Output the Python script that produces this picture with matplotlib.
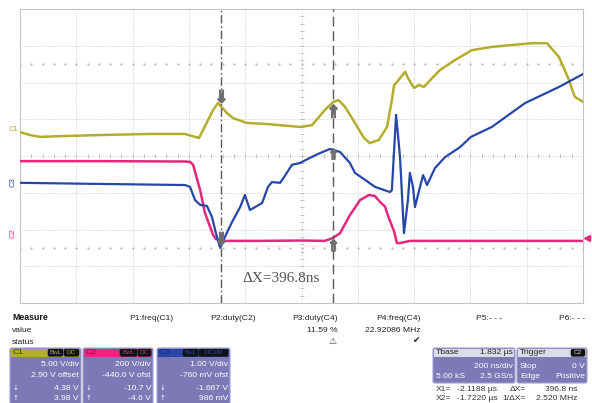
import matplotlib
matplotlib.use('Agg')
import matplotlib.pyplot as plt
from matplotlib.patches import Rectangle, FancyBboxPatch
import numpy as np

plt.rcParams['font.family'] = ['Liberation Sans', 'DejaVu Sans']

# time in ns (screen centre = 0, 200 ns/div), level in screen divisions
c1_t = [-1000, -964, -929, -858, -716, -538, -414, -364, -314, -297, -265, -243, -194, -123, -5,
        37, 83, 114, 132, 155, 190, 222, 243, 275, 304, 321, 329, 339, 350, 368, 382, 400, 417,
        435, 464, 492, 545, 605, 677, 748, 819, 872, 915, 950, 971, 1000]
c1_v = [0.65, 0.57, 0.52, 0.54, 0.57, 0.60, 0.60, 0.49, 1.25, 1.44, 1.17, 1.03, 0.90, 0.87, 0.79,
        0.84, 1.25, 1.48, 1.52, 1.33, 0.90, 0.49, 0.35, 0.44, 0.79, 1.52, 1.93, 2.01, 2.12, 2.29, 2.07, 1.85, 1.93,
        1.88, 2.12, 2.34, 2.61, 2.88, 2.97, 3.02, 3.07, 3.07, 2.69, 2.07, 1.61, 1.47]

c2_t = [-1000, -716, -414, -396, -385, -360, -343, -314, -304, -286, -150, 0, 83, 112, 137, 172,
        208, 240, 261, 279, 297, 307, 316, 329, 339, 350, 385, 600, 1000]
c2_v = [-0.14, -0.14, -0.15, -0.16, -0.24, -0.93, -1.55, -2.15, -2.26, -2.31, -2.31, -2.30, -2.31, -2.23, -2.10, -1.61,
        -1.20, -1.06, -1.09, -1.25, -1.38, -1.62, -1.80, -2.05, -2.37, -2.37, -2.31, -2.31, -2.31]

c3_t = [-1000, -716, -414, -396, -378, -360, -336, -318, -304, -289, -272, -247, -218, -201, -183,
        -165, -140, -119, -105, -76, -59, -34, -5, 30, 66, 101, 137, 172, 190, 226, 261, 314, 321,
        336, 350, 364, 378, 385, 396, 403, 421, 432, 446, 474, 510, 563, 602, 676, 794, 915, 1000]
c3_v = [-0.73, -0.76, -0.79, -0.84, -1.20, -1.33, -1.36, -1.66, -2.10, -2.50, -2.20, -1.80, -1.39, -1.06, -1.47,
        -1.39, -1.28, -0.84, -0.71, -0.73, -0.54, -0.24, -0.19, -0.05, 0.08, 0.19, 0.11, -0.19, -0.46, -0.65, -0.84, -0.98, -0.93,
        1.12, -0.03, -2.10, -1.20, -0.46, -0.84, -1.39, -0.84, -0.52, -0.79, -0.33, -0.03, 0.24, 0.52, 0.79, 1.44, 1.88, 2.23]

cursor_x1 = -286.0
cursor_dx = 396.8

col_c1 = '#b3ad2e'
col_c2 = '#e3287e'
col_c3 = '#2747a8'
box_body = '#7c79b6'
box_edge = '#a3a1d2'

fig = plt.figure(figsize=(5.92, 4.03), dpi=100)
ui = fig.add_axes([0, 0, 1, 1])
ui.set_xlim(0, 592)
ui.set_ylim(403, 0)
ui.axis('off')

ax = fig.add_axes([20 / 592, 1 - 303 / 403, 563 / 592, 294 / 403])
ax.set_facecolor('none')
ax.set_xlim(-1000, 1000)
ax.set_ylim(-4, 4)
ax.set_xticks([])
ax.set_yticks([])
for s in ax.spines.values():
    s.set_color('#c4c4c4')
    s.set_linewidth(0.8)

# graticule
for t in range(-800, 1000, 200):
    ax.axvline(t, color='#cccccc', lw=0.6, ls=(0, (1, 1.2)), zorder=1)
for v in range(-3, 4):
    ax.axhline(v, color='#cccccc', lw=0.6, ls=(0, (1, 1.2)), zorder=1)
tx = np.arange(-1000, 1001, 40)
ty = np.arange(-4, 4.01, 0.2)
ax.plot(tx, np.zeros_like(tx), ls='none', marker='|', ms=3.5, mew=0.6, color='#b8b8b8', zorder=1)
ax.plot(np.zeros_like(ty), ty, ls='none', marker='_', ms=3.5, mew=0.6, color='#b8b8b8', zorder=1)
for lvl in (2.5, -2.5):
    ax.plot(tx, np.full_like(tx, lvl, dtype=float), ls='none', marker='.', ms=1.2, color='#b4b4b4', zorder=1)

# traces
ax.plot(c1_t, c1_v, color=col_c1, lw=1.8, zorder=3)
ax.plot(c2_t, c2_v, color=col_c2, lw=1.8, zorder=3)
ax.plot(c3_t, c3_v, color=col_c3, lw=1.6, zorder=4)

# cursors
x2 = cursor_x1 + cursor_dx
ax.axvline(cursor_x1, color='#5a5a5a', lw=1.0, ls=(0, (6, 2, 1.2, 2)), zorder=5)
ax.axvline(x2, color='#5a5a5a', lw=1.0, ls=(0, (7, 3.5)), zorder=5)
ax.plot(cursor_x1, 1.62, marker=r'$\Downarrow$', ms=9, color='#707070', zorder=6)
ax.plot(cursor_x1, -2.22, marker=r'$\Downarrow$', ms=9, color='#707070', zorder=6)
ax.plot(x2, 1.22, marker=r'$\Uparrow$', ms=9, color='#707070', zorder=6)
ax.plot(x2, 0.05, marker=r'$\Uparrow$', ms=7, color='#707070', zorder=6)
ax.plot(x2, -2.42, marker=r'$\Uparrow$', ms=8, color='#707070', zorder=6)
ax.text(-211, -3.32, 'ΔX=396.8ns', family='Liberation Serif', size=11, color='#555555', va='center')

# channel markers
ytr = ax.get_yaxis_transform()
ax.text(-0.012, 0.72, 'C1', transform=ytr, size=5.5, color=col_c1, ha='center', va='center', clip_on=False)
ax.text(-0.013, -0.70, 'C3', transform=ytr, size=5.5, color=col_c3, ha='center', va='center', rotation=90, clip_on=False)
ax.text(-0.013, -2.10, 'C2', transform=ytr, size=5.5, color=col_c2, ha='center', va='center', rotation=90, clip_on=False)
ax.plot(1.007, -2.23, transform=ytr, marker='<', ms=4, color=col_c2, clip_on=False)

# measure panel
fs = 6.1
ui.text(12, 318, 'Measure', size=6.3, weight='bold', va='center', color='#111111')
ui.text(12, 330, 'value', size=fs, va='center', color='#222222')
ui.text(12, 342, 'status', size=fs, va='center', color='#222222')
heads = ['P1:freq(C1)', 'P2:duty(C2)', 'P3:duty(C4)', 'P4:freq(C4)', 'P5:- - -', 'P6:- - -']
head_x = [174, 256, 338, 421, 502, 585]
for h, hx in zip(heads, head_x):
    ui.text(hx, 318, h, size=fs, ha='right', va='center', color='#222222')
ui.text(338, 330, '11.59 %', size=fs, ha='right', va='center', color='#222222')
ui.text(421, 330, '22.92086 MHz', size=fs, ha='right', va='center', color='#222222')
ui.text(333, 341, '⚠', size=6.5, ha='center', va='center', color='#444444', family='DejaVu Sans')
ui.text(417, 341, '✔', size=6.5, ha='center', va='center', color='#222222', family='DejaVu Sans')


def badge(x0, x1, y, label, tcol):
    ui.add_patch(FancyBboxPatch((x0, y - 3.5), x1 - x0, 7, boxstyle='round,pad=0,rounding_size=1.5',
                                fc='#111111', ec='#111111', lw=0.4))
    ui.text((x0 + x1) / 2, y, label, size=4.6, ha='center', va='center', color=tcol)


def chan_box(x0, x1, name, head_col, name_col, badges, lines):
    ui.add_patch(FancyBboxPatch((x0, 348), x1 - x0, 60, boxstyle='round,pad=0,rounding_size=2',
                                fc=box_body, ec=box_edge, lw=0.8))
    ui.add_patch(Rectangle((x0 + 0.6, 348.6), x1 - x0 - 1.2, 8.6, fc=head_col, ec='none'))
    ui.text(x0 + 3, 352.7, name, size=fs, va='center', color=name_col)
    for bx0, bx1, lab in badges:
        badge(bx0, bx1, 352.7, lab, head_col)
    ys = [365, 375.5, 388, 398.5]
    for (txt, arrow), yy in zip(lines, ys):
        ui.text(x1 - 2, yy, txt, size=fs, ha='right', va='center', color='white')
        if arrow:
            ui.text(x0 + 3, yy, arrow, size=5, va='center', color='white', family='DejaVu Sans')


chan_box(10, 81, 'C1', col_c1, '#3a3810', [(48, 63, 'BwL'), (64, 79, 'DC')],
         [('5.00 V/div', ''), ('2.90 V offset', ''), ('4.38 V', '↓'), ('3.98 V', '↑')])
chan_box(83, 153, 'C2', col_c2, '#8a0f4a', [(120, 137, 'BwL'), (138, 151, 'DC')],
         [('200 V/div', ''), ('-440.0 V ofst', ''), ('-10.7 V', '↓'), ('-4.6 V', '↑')])
chan_box(157, 230, 'C3', col_c3, '#1a2c70', [(183, 198, 'BwL'), (199, 228, 'DC1M')],
         [('1.00 V/div', ''), ('-760 mV ofst', ''), ('-1.667 V', '↓'), ('986 mV', '↑')])

# timebase / trigger boxes
for bx0, bx1 in [(433, 515), (517, 587)]:
    ui.add_patch(FancyBboxPatch((bx0, 348), bx1 - bx0, 35, boxstyle='round,pad=0,rounding_size=2',
                                fc=box_body, ec=box_edge, lw=0.8))
    ui.add_patch(Rectangle((bx0 + 0.6, 348.6), bx1 - bx0 - 1.2, 8.8, fc='#dcdce8', ec='none'))
ui.text(436, 352.8, 'Tbase', size=fs, va='center', color='#222222')
ui.text(513, 352.8, '1.832 µs', size=fs, ha='right', va='center', color='#222222')
ui.text(513, 366.5, '200 ns/div', size=fs, ha='right', va='center', color='white')
ui.text(436, 377, '5.00 kS', size=fs, va='center', color='white')
ui.text(513, 377, '2.5 GS/s', size=fs, ha='right', va='center', color='white')
ui.text(520, 352.8, 'Trigger', size=fs, va='center', color='#222222')
badge(571, 585, 352.8, 'C2', '#dddddd')
ui.text(520, 366.5, 'Stop', size=fs, va='center', color='white')
ui.text(585, 366.5, '0 V', size=fs, ha='right', va='center', color='white')
ui.text(520, 377, 'Edge', size=fs, va='center', color='white')
ui.text(585, 377, 'Positive', size=fs, ha='right', va='center', color='white')

# cursor readout
ui.text(436, 389.5, 'X1=', size=fs, va='center', color='#333333')
ui.text(457, 389.5, '-2.1188 µs', size=fs, va='center', color='#333333')
ui.text(526, 389.5, 'ΔX=', size=fs, ha='right', va='center', color='#333333')
ui.text(577, 389.5, '396.8 ns', size=fs, ha='right', va='center', color='#333333')
ui.text(436, 399, 'X2=', size=fs, va='center', color='#333333')
ui.text(457, 399, '-1.7220 µs', size=fs, va='center', color='#333333')
ui.text(526, 399, '1/ΔX=', size=fs, ha='right', va='center', color='#333333')
ui.text(577, 399, '2.520 MHz', size=fs, ha='right', va='center', color='#333333')

fig.savefig('out.png', dpi=100)
